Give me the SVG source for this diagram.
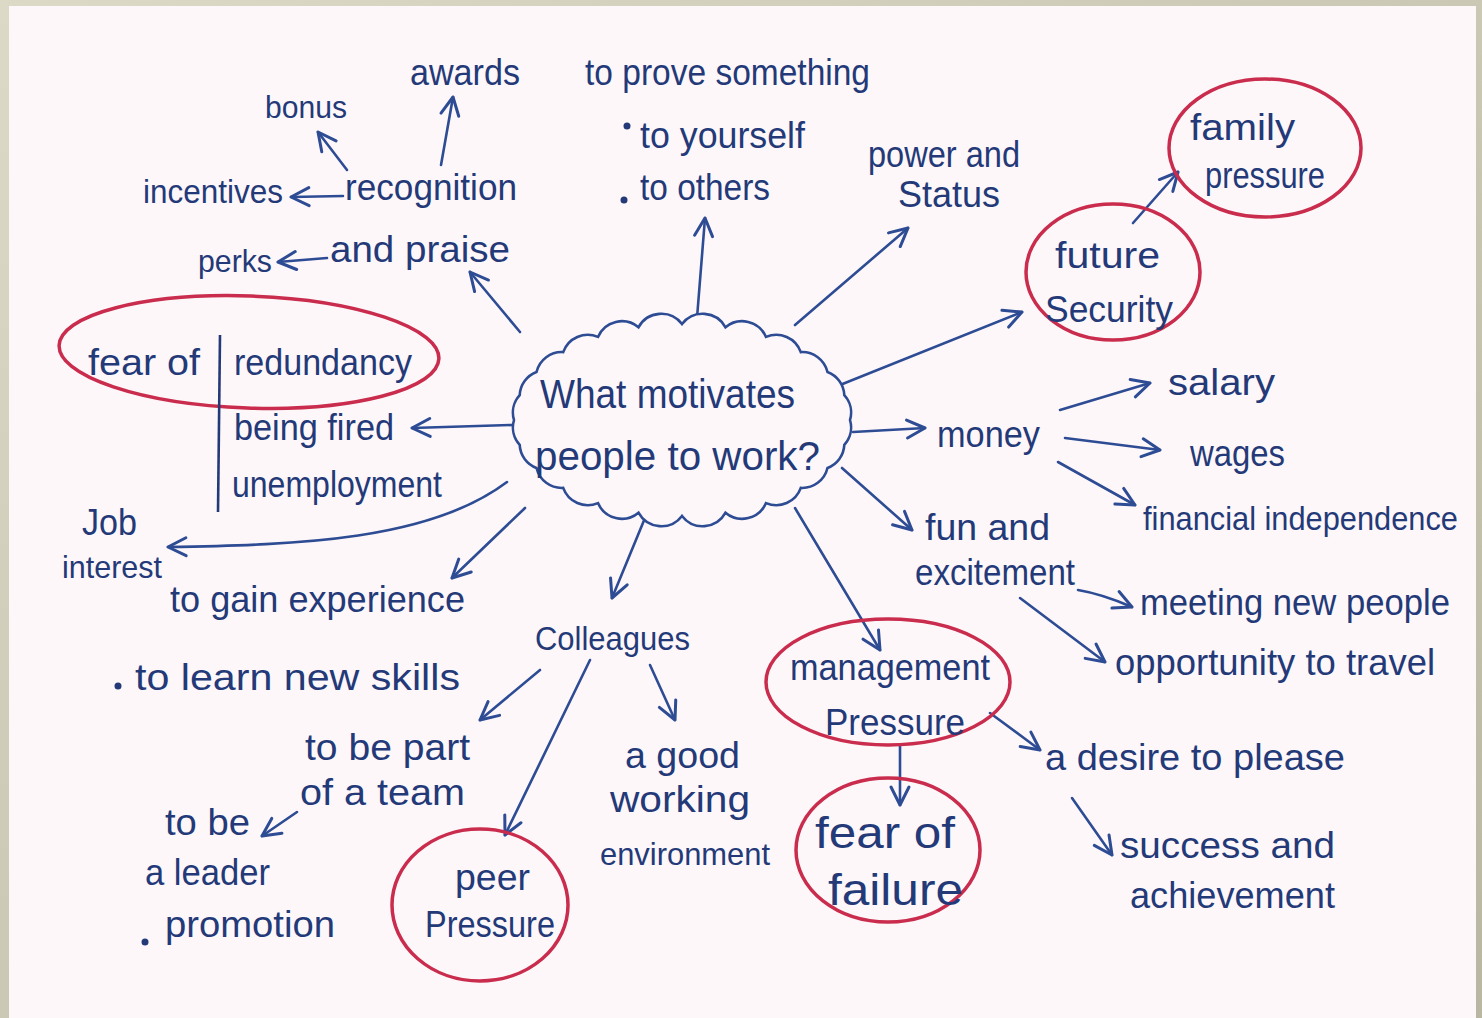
<svg xmlns="http://www.w3.org/2000/svg" width="1482" height="1018" viewBox="0 0 1482 1018">
<defs>
<linearGradient id="frame" x1="0" y1="0" x2="1" y2="1">
<stop offset="0" stop-color="#dcdac6"/>
<stop offset="1" stop-color="#b9b7a2"/>
</linearGradient>
<marker id="ah" markerUnits="userSpaceOnUse" markerWidth="24" markerHeight="24" viewBox="0 0 24 24" refX="21" refY="12" orient="auto">
<path d="M3,3 L21,12 L3,21" fill="none" stroke="#2d4c94" stroke-width="3" stroke-linecap="round" stroke-linejoin="round"/>
</marker>
<style>
.t{font-family:"Liberation Sans",Arial,sans-serif;font-size:36px;fill:#243a78}
.c{fill:none;stroke:#2d4c94;stroke-width:2.6;stroke-linecap:round;marker-end:url(#ah)}
.r{fill:none;stroke:#c92c4c;stroke-width:3.5}
.b{fill:#243a78}
</style>
</defs>
<rect x="0" y="0" width="1482" height="1018" fill="url(#frame)"/>
<rect x="9" y="6" width="1467" height="1012" fill="#fdf7fa"/>

<g id="connectors">
<line class="c" x1="441" y1="165" x2="453" y2="97"/>
<line class="c" x1="347" y1="170" x2="318" y2="132"/>
<line class="c" x1="343" y1="196" x2="291" y2="197"/>
<line class="c" x1="327" y1="258" x2="278" y2="262"/>
<line class="c" x1="520" y1="332" x2="470" y2="272"/>
<line class="c" x1="697" y1="318" x2="705" y2="218"/>
<line class="c" x1="795" y1="325" x2="908" y2="228"/>
<line class="c" x1="840" y1="385" x2="1022" y2="312"/>
<line class="c" x1="1133" y1="223" x2="1178" y2="172"/>
<line class="c" x1="853" y1="432" x2="925" y2="428"/>
<line class="c" x1="1060" y1="410" x2="1150" y2="383"/>
<line class="c" x1="1065" y1="438" x2="1160" y2="450"/>
<line class="c" x1="1058" y1="462" x2="1135" y2="505"/>
<line class="c" x1="842" y1="468" x2="912" y2="530"/>
<path class="c" d="M1078,590 Q1102,594 1132,607"/>
<line class="c" x1="1020" y1="598" x2="1105" y2="662"/>
<line class="c" x1="795" y1="508" x2="880" y2="650"/>
<line class="c" x1="990" y1="713" x2="1040" y2="750"/>
<line class="c" x1="900" y1="745" x2="900" y2="805"/>
<line class="c" x1="1072" y1="798" x2="1112" y2="855"/>
<line class="c" x1="645" y1="518" x2="612" y2="598"/>
<line class="c" x1="525" y1="508" x2="452" y2="578"/>
<path class="c" d="M507,482 C430,540 300,545 168,547"/>
<line class="c" x1="512" y1="425" x2="412" y2="428"/>
<line class="c" x1="540" y1="670" x2="480" y2="720"/>
<line class="c" x1="590" y1="660" x2="505" y2="835"/>
<line class="c" x1="650" y1="665" x2="675" y2="720"/>
<line class="c" x1="297" y1="812" x2="262" y2="836"/>
</g>

<g id="center">
<path d="M850,420 A26,26 0 0 1 844.3,444.9 A26,26 0 0 1 827.5,468 A26,26 0 0 1 800.8,487.9 A26,26 0 0 1 766,503.1 A26,26 0 0 1 725.5,512.7 A26,26 0 0 1 682,516 A26,26 0 0 1 638.5,512.7 A26,26 0 0 1 598,503.1 A26,26 0 0 1 563.2,487.9 A26,26 0 0 1 536.5,468 A26,26 0 0 1 519.7,444.9 A26,26 0 0 1 514,420 A26,26 0 0 1 519.7,395.1 A26,26 0 0 1 536.5,372 A26,26 0 0 1 563.2,352.1 A26,26 0 0 1 598,336.9 A26,26 0 0 1 638.5,327.3 A26,26 0 0 1 682,324 A26,26 0 0 1 725.5,327.3 A26,26 0 0 1 766,336.9 A26,26 0 0 1 800.8,352.1 A26,26 0 0 1 827.5,372 A26,26 0 0 1 844.3,395.1 A26,26 0 0 1 850,420 Z" fill="#fdf7fa" stroke="#2d4c94" stroke-width="2.6"/>
<text class="t" x="540" y="408" style="font-size:40px" textLength="255" lengthAdjust="spacingAndGlyphs">What motivates</text>
<text class="t" x="535" y="470" style="font-size:40px" textLength="285" lengthAdjust="spacingAndGlyphs">people to work?</text>
</g>

<g id="awards"><text class="t" x="410" y="85" textLength="110" lengthAdjust="spacingAndGlyphs">awards</text></g>
<g id="bonus"><text class="t" x="265" y="118" style="font-size:32px" textLength="82" lengthAdjust="spacingAndGlyphs">bonus</text></g>
<g id="incentives"><text class="t" x="143" y="203" style="font-size:34px" textLength="140" lengthAdjust="spacingAndGlyphs">incentives</text></g>
<g id="recognition">
<text class="t" x="345" y="200" textLength="172" lengthAdjust="spacingAndGlyphs">recognition</text>
<text class="t" x="330" y="262" textLength="180" lengthAdjust="spacingAndGlyphs">and praise</text>
</g>
<g id="perks"><text class="t" x="198" y="272" style="font-size:32px" textLength="74" lengthAdjust="spacingAndGlyphs">perks</text></g>
<g id="prove">
<text class="t" x="585" y="85" textLength="285" lengthAdjust="spacingAndGlyphs">to prove something</text>
<circle class="b" cx="627" cy="126" r="3.5"/>
<text class="t" x="640" y="148" textLength="165" lengthAdjust="spacingAndGlyphs">to yourself</text>
<circle class="b" cx="624" cy="200" r="3.5"/>
<text class="t" x="640" y="200" textLength="130" lengthAdjust="spacingAndGlyphs">to others</text>
</g>
<g id="power">
<text class="t" x="868" y="167" textLength="152" lengthAdjust="spacingAndGlyphs">power and</text>
<text class="t" x="898" y="207" textLength="102" lengthAdjust="spacingAndGlyphs">Status</text>
</g>
<g id="family">
<ellipse class="r" cx="1265" cy="148" rx="96" ry="69"/>
<text class="t" x="1190" y="140" textLength="105" lengthAdjust="spacingAndGlyphs">family</text>
<text class="t" x="1205" y="188" textLength="120" lengthAdjust="spacingAndGlyphs">pressure</text>
</g>
<g id="future">
<ellipse class="r" cx="1113" cy="272" rx="87" ry="68"/>
<text class="t" x="1055" y="268" textLength="105" lengthAdjust="spacingAndGlyphs">future</text>
<text class="t" x="1045" y="322" textLength="128" lengthAdjust="spacingAndGlyphs">Security</text>
</g>
<g id="fear-redundancy">
<ellipse class="r" cx="249" cy="352" rx="190" ry="56" transform="rotate(2 249 352)"/>
<text class="t" x="88" y="375" textLength="112" lengthAdjust="spacingAndGlyphs">fear of</text>
<line x1="220" y1="335" x2="218" y2="512" stroke="#243a78" stroke-width="2.6"/>
<text class="t" x="234" y="375" textLength="178" lengthAdjust="spacingAndGlyphs">redundancy</text>
<text class="t" x="234" y="440" textLength="160" lengthAdjust="spacingAndGlyphs">being fired</text>
<text class="t" x="232" y="497" textLength="210" lengthAdjust="spacingAndGlyphs">unemployment</text>
</g>
<g id="money"><text class="t" x="937" y="447" textLength="103" lengthAdjust="spacingAndGlyphs">money</text></g>
<g id="salary"><text class="t" x="1168" y="395" textLength="107" lengthAdjust="spacingAndGlyphs">salary</text></g>
<g id="wages"><text class="t" x="1190" y="466" textLength="95" lengthAdjust="spacingAndGlyphs">wages</text></g>
<g id="financial"><text class="t" x="1143" y="530" style="font-size:33px" textLength="315" lengthAdjust="spacingAndGlyphs">financial independence</text></g>
<g id="job-interest">
<text class="t" x="82" y="535" textLength="55" lengthAdjust="spacingAndGlyphs">Job</text>
<text class="t" x="62" y="578" style="font-size:32px" textLength="100" lengthAdjust="spacingAndGlyphs">interest</text>
</g>
<g id="fun">
<text class="t" x="925" y="540" textLength="125" lengthAdjust="spacingAndGlyphs">fun and</text>
<text class="t" x="915" y="585" textLength="160" lengthAdjust="spacingAndGlyphs">excitement</text>
</g>
<g id="meeting"><text class="t" x="1140" y="615" textLength="310" lengthAdjust="spacingAndGlyphs">meeting new people</text></g>
<g id="travel"><text class="t" x="1115" y="675" textLength="320" lengthAdjust="spacingAndGlyphs">opportunity to travel</text></g>
<g id="experience">
<text class="t" x="170" y="612" textLength="295" lengthAdjust="spacingAndGlyphs">to gain experience</text>
<circle class="b" cx="118" cy="686" r="3.5"/>
<text class="t" x="135" y="690" textLength="325" lengthAdjust="spacingAndGlyphs">to learn new skills</text>
</g>
<g id="colleagues"><text class="t" x="535" y="650" style="font-size:33px" textLength="155" lengthAdjust="spacingAndGlyphs">Colleagues</text></g>
<g id="management">
<ellipse class="r" cx="888" cy="682" rx="122" ry="63"/>
<text class="t" x="790" y="680" textLength="200" lengthAdjust="spacingAndGlyphs">management</text>
<text class="t" x="825" y="735" textLength="140" lengthAdjust="spacingAndGlyphs">Pressure</text>
</g>
<g id="desire"><text class="t" x="1045" y="770" textLength="300" lengthAdjust="spacingAndGlyphs">a desire to please</text></g>
<g id="success">
<text class="t" x="1120" y="858" textLength="215" lengthAdjust="spacingAndGlyphs">success and</text>
<text class="t" x="1130" y="908" textLength="205" lengthAdjust="spacingAndGlyphs">achievement</text>
</g>
<g id="fear-failure">
<ellipse class="r" cx="888" cy="850" rx="92" ry="72"/>
<text class="t" x="815" y="848" style="font-size:44px" textLength="140" lengthAdjust="spacingAndGlyphs">fear of</text>
<text class="t" x="828" y="905" style="font-size:44px" textLength="135" lengthAdjust="spacingAndGlyphs">failure</text>
</g>
<g id="team">
<text class="t" x="305" y="760" textLength="165" lengthAdjust="spacingAndGlyphs">to be part</text>
<text class="t" x="300" y="805" textLength="165" lengthAdjust="spacingAndGlyphs">of a team</text>
</g>
<g id="leader">
<text class="t" x="165" y="835" textLength="85" lengthAdjust="spacingAndGlyphs">to be</text>
<text class="t" x="145" y="885" textLength="125" lengthAdjust="spacingAndGlyphs">a leader</text>
<circle class="b" cx="145" cy="942" r="3.5"/>
<text class="t" x="165" y="937" textLength="170" lengthAdjust="spacingAndGlyphs">promotion</text>
</g>
<g id="environment">
<text class="t" x="625" y="768" textLength="115" lengthAdjust="spacingAndGlyphs">a good</text>
<text class="t" x="610" y="812" textLength="140" lengthAdjust="spacingAndGlyphs">working</text>
<text class="t" x="600" y="865" style="font-size:32px" textLength="170" lengthAdjust="spacingAndGlyphs">environment</text>
</g>
<g id="peer">
<ellipse class="r" cx="480" cy="905" rx="88" ry="76"/>
<text class="t" x="455" y="890" textLength="75" lengthAdjust="spacingAndGlyphs">peer</text>
<text class="t" x="425" y="937" textLength="130" lengthAdjust="spacingAndGlyphs">Pressure</text>
</g>
</svg>
